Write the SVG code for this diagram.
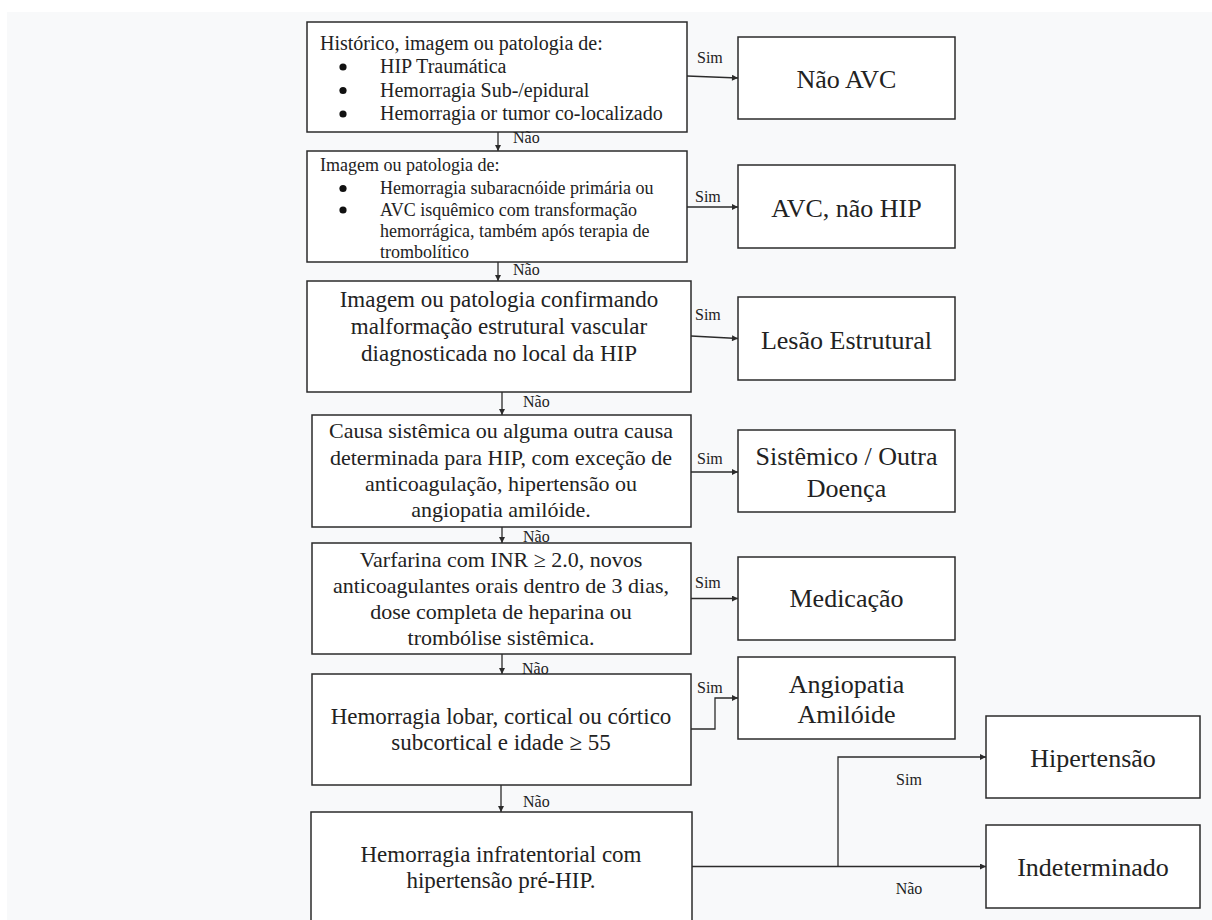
<svg xmlns="http://www.w3.org/2000/svg" width="1212" height="920" viewBox="0 0 1212 920">
  <style>
    .box { fill: #ffffff; stroke: #2b2b2b; stroke-width: 1.5; }
    .txt { font-family: 'Liberation Serif', Tinos, 'Times New Roman', Times, 'DejaVu Serif', serif; fill: #222222; }
    .c { text-anchor: middle; }
    .lbl { font-family: 'Liberation Serif', Tinos, 'Times New Roman', Times, 'DejaVu Serif', serif; fill: #222222; font-size: 16px; }
    .wire { fill: none; stroke: #2b2b2b; stroke-width: 1.3; }
    .arr { marker-end: url(#head); }
    .dot { fill: #111111; }
  </style>
  <defs>
    <marker id="head" viewBox="0 0 10 10" refX="10" refY="5" markerWidth="8" markerHeight="6" markerUnits="userSpaceOnUse" orient="auto">
      <path d="M0,0 L10,5 L0,10 z" fill="#2b2b2b"/>
    </marker>
  </defs>

  <!-- page background -->
  <rect x="0" y="0" width="1212" height="920" fill="#ffffff"/>
  <rect x="7" y="12" width="1205" height="908" fill="#f8f9fa"/>

  <!-- decision chain -->
  <g id="q1">
    <rect class="box" x="307" y="22" width="380" height="110"/>
    <g class="txt" font-size="20" font-family="Liberation Serif, DejaVu Serif, serif">
      <text x="320" y="50">Histórico, imagem ou patologia de:</text>
      <text x="380" y="73">HIP Traumática</text>
      <text x="380" y="97">Hemorragia Sub-/epidural</text>
      <text x="380" y="120">Hemorragia or tumor co-localizado</text>
    </g>
    <circle class="dot" cx="343" cy="67" r="3.6"/>
    <circle class="dot" cx="343" cy="90.5" r="3.6"/>
    <circle class="dot" cx="343" cy="114" r="3.6"/>
  </g>

  <g id="q2">
    <rect class="box" x="307" y="151" width="380" height="111"/>
    <g class="txt" font-size="18">
      <text x="320" y="171">Imagem ou patologia de:</text>
      <text x="380" y="194">Hemorragia subaracnóide primária ou</text>
      <text x="380" y="215.5">AVC isquêmico com transformação</text>
      <text x="380" y="237">hemorrágica, também após terapia de</text>
      <text x="380" y="258">trombolítico</text>
    </g>
    <circle class="dot" cx="343" cy="188.5" r="3.6"/>
    <circle class="dot" cx="343" cy="210" r="3.6"/>
  </g>

  <g id="q3">
    <rect class="box" x="307" y="281" width="384" height="111"/>
    <g class="txt c" font-size="23">
      <text x="499" y="307">Imagem ou patologia confirmando</text>
      <text x="499" y="334">malformação estrutural vascular</text>
      <text x="499" y="361">diagnosticada no local da HIP</text>
    </g>
  </g>

  <g id="q4">
    <rect class="box" x="312" y="415" width="379" height="112"/>
    <g class="txt c" font-size="22">
      <text x="501" y="438">Causa sistêmica ou alguma outra causa</text>
      <text x="501" y="465">determinada para HIP, com exceção de</text>
      <text x="501" y="491">anticoagulação, hipertensão ou</text>
      <text x="501" y="517">angiopatia amilóide.</text>
    </g>
  </g>

  <g id="q5">
    <rect class="box" x="312" y="543" width="379" height="111"/>
    <g class="txt c" font-size="22">
      <text x="501" y="567">Varfarina com INR ≥ 2.0, novos</text>
      <text x="501" y="593">anticoagulantes orais dentro de 3 dias,</text>
      <text x="501" y="619">dose completa de heparina ou</text>
      <text x="501" y="645">trombólise sistêmica.</text>
    </g>
  </g>

  <g id="q6">
    <rect class="box" x="312" y="674" width="379" height="111"/>
    <g class="txt c" font-size="23">
      <text x="501" y="724">Hemorragia lobar, cortical ou córtico</text>
      <text x="501" y="750">subcortical e idade ≥ 55</text>
    </g>
  </g>

  <g id="q7">
    <rect class="box" x="311" y="812" width="381" height="112"/>
    <g class="txt c" font-size="23">
      <text x="501" y="862">Hemorragia infratentorial com</text>
      <text x="501" y="888">hipertensão pré-HIP.</text>
    </g>
  </g>

  <!-- outcomes -->
  <g id="o-nao-avc">
    <rect class="box" x="738" y="37" width="217" height="82"/>
    <text class="txt c" font-size="26" x="846.5" y="88">Não AVC</text>
  </g>
  <g id="o-avc-nao-hip">
    <rect class="box" x="738" y="165" width="217" height="83"/>
    <text class="txt c" font-size="26" x="846.5" y="217">AVC, não HIP</text>
  </g>
  <g id="o-lesao">
    <rect class="box" x="738" y="297" width="217" height="83"/>
    <text class="txt c" font-size="26" x="846.5" y="349">Lesão Estrutural</text>
  </g>
  <g id="o-sistemico">
    <rect class="box" x="738" y="430" width="217" height="82"/>
    <text class="txt c" font-size="26" x="846.5" y="465">Sistêmico / Outra</text>
    <text class="txt c" font-size="26" x="846.5" y="497">Doença</text>
  </g>
  <g id="o-medicacao">
    <rect class="box" x="738" y="557" width="217" height="83"/>
    <text class="txt c" font-size="26" x="846.5" y="607">Medicação</text>
  </g>
  <g id="o-angiopatia">
    <rect class="box" x="738" y="657" width="217" height="82"/>
    <text class="txt c" font-size="26" x="846.5" y="693">Angiopatia</text>
    <text class="txt c" font-size="26" x="846.5" y="723">Amilóide</text>
  </g>
  <g id="o-hipertensao">
    <rect class="box" x="986" y="716" width="214" height="82"/>
    <text class="txt c" font-size="26" x="1093" y="767">Hipertensão</text>
  </g>
  <g id="o-indeterminado">
    <rect class="box" x="986" y="825" width="214" height="83"/>
    <text class="txt c" font-size="26" x="1093" y="876">Indeterminado</text>
  </g>

  <!-- connectors -->
  <g id="connectors">
    <line class="wire arr" x1="687" y1="76" x2="738" y2="78"/>
    <line class="wire arr" x1="687" y1="207" x2="738" y2="207"/>
    <line class="wire arr" x1="691" y1="336" x2="738" y2="338.5"/>
    <line class="wire arr" x1="691" y1="472" x2="738" y2="472"/>
    <line class="wire arr" x1="691" y1="598.5" x2="738" y2="598.5"/>
    <polyline class="wire arr" points="691,729 715,729 715,698 738,698"/>
    <polyline class="wire arr" points="838,866.5 838,757 986,757"/>
    <line class="wire arr" x1="692" y1="866.5" x2="986" y2="866.5"/>

    <line class="wire arr" x1="498" y1="132" x2="498" y2="151"/>
    <line class="wire arr" x1="498" y1="262" x2="498" y2="281"/>
    <line class="wire arr" x1="502" y1="392" x2="502" y2="415"/>
    <line class="wire arr" x1="502" y1="527" x2="502" y2="543"/>
    <line class="wire arr" x1="502" y1="654" x2="502" y2="674"/>
    <line class="wire arr" x1="501" y1="785" x2="501" y2="812"/>

    <g class="lbl">
      <text x="697" y="63">Sim</text>
      <text x="695" y="202">Sim</text>
      <text x="695" y="320">Sim</text>
      <text x="697" y="464">Sim</text>
      <text x="695" y="588">Sim</text>
      <text x="697" y="693">Sim</text>
      <text x="909" y="785" text-anchor="middle">Sim</text>
      <text x="909" y="894" text-anchor="middle">Não</text>
      <text x="513" y="143">Não</text>
      <text x="513" y="275">Não</text>
      <text x="523" y="407">Não</text>
      <text x="523" y="542">Não</text>
      <text x="522" y="674">Não</text>
      <text x="523" y="807">Não</text>
    </g>
  </g>
</svg>
